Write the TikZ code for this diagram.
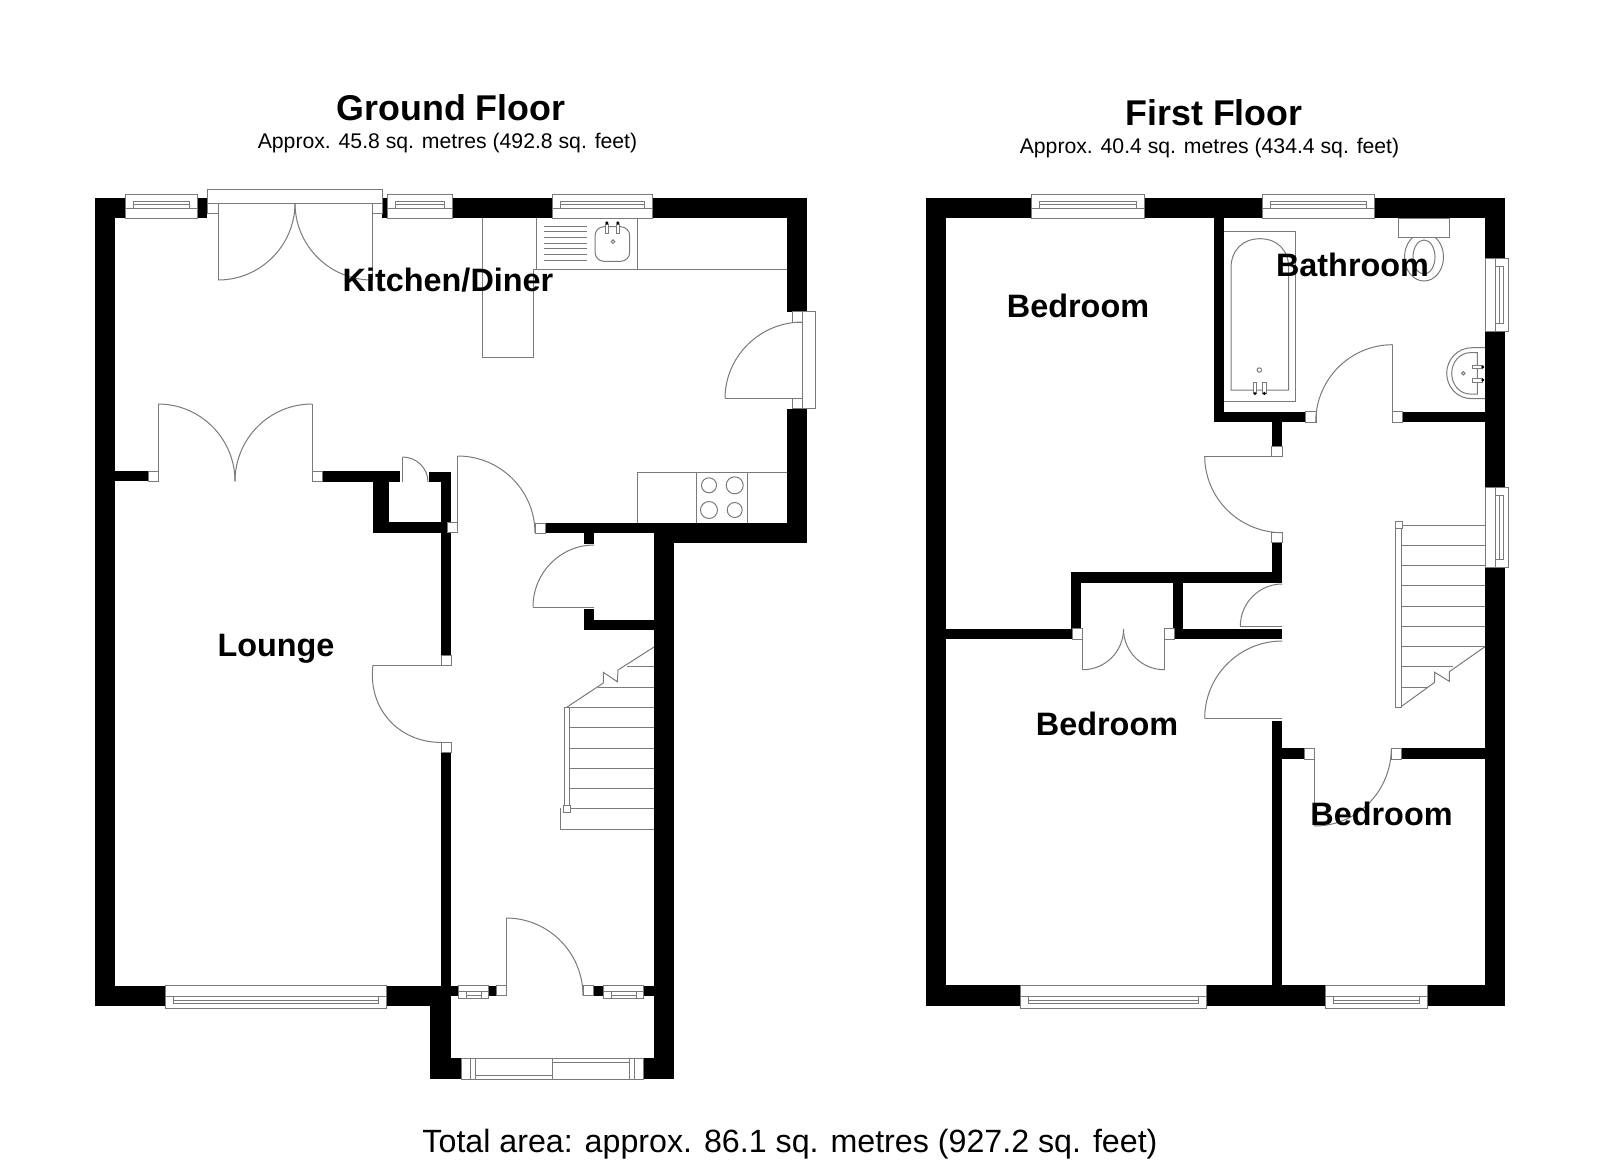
\documentclass[tikz,border=0pt]{standalone}
\usepackage{fontspec}
\setmainfont{Liberation Sans}
\definecolor{ln}{HTML}{7A7A7A}
\tikzset{
  thin line/.style={draw=ln,line width=0.5pt},
  fixture/.style={thin line,fill=white},
  titletext/.style={inner sep=0pt,font=\fontsize{17.9}{20}\selectfont\bfseries},
  roomtext/.style={inner sep=0pt,font=\fontsize{16.2}{18}\selectfont\bfseries},
  subtext/.style={inner sep=0pt,font=\fontsize{10.6}{12}\selectfont},
  totaltext/.style={inner sep=0pt,font=\fontsize{16.1}{18}\selectfont}
}
\newcommand{\Wall}[4]{\fill[black] (#1,#2) rectangle (#3,#4);}
\newcommand{\Bx}[4]{\draw[fixture] (#1,#2) rectangle (#3,#4);}
\newcommand{\Ln}[4]{\draw[thin line] (#1,#2) -- (#3,#4);}
\newcommand{\Qarc}[6]{\draw[thin line] (#3,#4) .. controls ({#3+0.5523*(#5-#1)},{#4+0.5523*(#6-#2)}) and ({#5+0.5523*(#3-#1)},{#6+0.5523*(#4-#2)}) .. (#5,#6);}
\newcommand{\WinT}[2]{\Bx{#1}{194}{#2}{218}\Ln{#1}{208}{#2}{208}\Bx{#1+8}{201}{#2-8}{208}\Ln{#1+8}{204.5}{#2-8}{204.5}}
\newcommand{\WinB}[2]{\Bx{#1}{985.5}{#2}{1008.7}\Ln{#1}{996}{#2}{996}\Bx{#1+8}{996}{#2-8}{1003.7}\Ln{#1+8}{1000}{#2-8}{1000}}
\newcommand{\WinR}[2]{\Bx{1485}{#1}{1508.7}{#2}\Ln{1495.5}{#1}{1495.5}{#2}\Bx{1495.5}{#1+8}{1503.3}{#2-8}\Ln{1499.4}{#1+8}{1499.4}{#2-8}}
\newcommand{\WinH}[4]{\Bx{#1}{985.5}{#2}{998.5}\Ln{#1}{991.7}{#2}{991.7}\Bx{#3}{991.7}{#4}{998.5}\Ln{#3}{995}{#4}{995}}
\newcommand{\Dt}[3]{\fill[black] (#1,#2) circle[radius=#3*0.5pt];}
\begin{document}
\begin{tikzpicture}[x=0.5pt,y=-0.5pt]
\useasboundingbox (0,0) rectangle (1600,1163);
\fill[white] (0,0) rectangle (1600,1163);

%%% GROUND FLOOR walls
\Wall{95}{198}{115}{1006}
\Wall{95}{198}{125}{218}
\Wall{197}{198}{207}{218}
\Wall{382}{198}{387}{218}
\Wall{452}{198}{552}{218}
\Wall{652}{198}{807}{218}
\Wall{787}{198}{807}{312}
\Wall{787}{408.7}{807}{543}
\Wall{654}{523}{807}{543}
\Wall{545}{523}{654}{533}
\Wall{654}{523}{674}{1079}
\Wall{95}{985.5}{165}{1006}
\Wall{386}{985.5}{451}{1006}
\Wall{430}{1006}{451}{1079}
\Wall{430}{1058}{461.4}{1079}
\Wall{643}{1058}{674}{1079}
% lounge/kitchen partition and cupboard
\Wall{115}{471}{148.3}{481.3}
\Wall{322}{471}{400}{482}
\Wall{373}{471}{389}{532.7}
\Wall{373}{522.3}{451}{532.7}
\Wall{429}{472}{451}{482}
\Wall{441}{472}{451}{522.3}
\Wall{441}{522}{451}{655}
\Wall{441}{752}{451}{1006}
% hall understairs cupboard
\Wall{583.5}{533}{594}{544}
\Wall{583.5}{609}{594}{630}
\Wall{583.5}{619.5}{654}{630}
% hall front wall
\Wall{451}{985.5}{496}{995.5}
\Wall{593}{985.5}{654}{995.5}

% patio door
\Bx{207}{189.5}{382}{203}
\Bx{207}{203}{218}{213}
\Bx{372}{203}{382}{213}
\Ln{218}{203}{218}{280}
\Ln{372}{203}{372}{280}
\Qarc{218}{203}{218}{280}{295}{203}
\Qarc{372}{203}{372}{280}{295}{203}
% windows
\WinT{125}{197}
\WinT{387}{452}
\WinT{552}{652}
\WinB{165}{386}
\WinH{458.6}{488.3}{466}{481}
\WinH{603.7}{643}{611}{636}
% porch window
\Bx{461.4}{1058}{643}{1079}
\Ln{470}{1058}{470}{1079}
\Ln{475}{1058}{475}{1079}
\Ln{629.4}{1058}{629.4}{1079}
\Ln{634.5}{1058}{634.5}{1079}
\Ln{552.3}{1058}{552.3}{1079}
\Ln{475}{1075.7}{552.3}{1075.7}
\Ln{552.3}{1062}{629.4}{1062}
% lounge double door
\Bx{148.3}{471}{158}{481.3}
\Bx{312}{471}{322}{481.3}
\Ln{158}{481.3}{158}{404}
\Ln{312}{481.3}{312}{404}
\Qarc{158}{481.3}{158}{404}{235}{481.3}
\Qarc{312}{481.3}{312}{404}{235}{481.3}
% small cupboard door
\Ln{402.5}{482}{402.5}{457}
\Qarc{402.5}{482}{402.5}{457}{428}{482}
% kitchen-hall door
\Bx{447.7}{522}{457.7}{532.7}
\Bx{535}{523}{545}{533}
\Ln{457.7}{532.7}{457.7}{456}
\Qarc{457.7}{533}{457.7}{456}{535}{533}
% hall cupboard door
\Ln{533}{607}{594}{607}
\Qarc{594}{607}{594}{545}{533}{607}
% lounge door
\Bx{441}{655}{451}{665}
\Bx{441}{742}{451}{752}
\Ln{373}{665}{451}{665}
\Qarc{451}{665}{373}{665}{441}{742.4}
% front door
\Bx{496}{985.5}{506}{995.5}
\Bx{583}{985.5}{593}{995.5}
\Ln{506}{995.5}{506}{918}
\Qarc{506}{995.5}{506}{918}{583}{995.5}
% kitchen side door
\Bx{802.7}{311.7}{815.7}{408.7}
\Bx{792}{311.7}{802.7}{322}
\Bx{792}{398.7}{802.7}{408.7}
\Ln{725}{398.7}{802.7}{398.7}
\Qarc{802.7}{398.7}{725}{398.7}{802.7}{322}

% kitchen fittings
\draw[thin line] (482.7,218) -- (482.7,357.3) -- (533.3,357.3) -- (533.3,269) -- (787,269);
\draw[thin line] (536.7,218) -- (536.7,269) (637.3,218) -- (637.3,269);
\foreach \yy in {226,231.7,237.3,243,248.7,254.3,260}{\Ln{544}{\yy}{587}{\yy}}
\draw[thin line,rounded corners=4.5pt] (595,226.7) rectangle (629.7,261.3);
\draw[thin line] (613,241.7) circle[radius=0.9pt];
\Bx{605.3}{224.3}{608.3}{233.7}
\Bx{616.3}{224.3}{619.3}{233.7}
\Dt{606.8}{223}{1.8}
\Dt{617.8}{223}{1.8}
\draw[thin line] (637.3,523) -- (637.3,472.3) -- (787,472.3);
\Ln{696.3}{472.3}{696.3}{523}
\Ln{747.3}{472.3}{747.3}{523}
\draw[thin line] (709,485.3) circle[radius=3.75pt];
\draw[thin line] (734.7,485.3) circle[radius=4.25pt];
\draw[thin line] (709,510) circle[radius=4.25pt];
\draw[thin line] (734.7,510) circle[radius=3.75pt];

% ground stairs
\Ln{626.7}{666.7}{654}{666.7}
\Ln{598}{687}{654}{687}
\foreach \yy in {707,727,748,768,788,808}{\Ln{569}{\yy}{654}{\yy}}
\draw[thin line] (560,808) -- (560,829) -- (654,829);
\Bx{564.3}{707}{569.3}{808}
\Bx{563.5}{805}{570.5}{812}
\draw[thin line] (654,647) -- (618,670) -- (617.3,681.7) -- (603.3,672.3) -- (603.3,683) -- (566.7,707.3);

%%% FIRST FLOOR walls
\Wall{926}{198}{946}{1006}
\Wall{926}{198}{1032}{218}
\Wall{1144}{198}{1263}{218}
\Wall{1374}{198}{1505}{218}
\Wall{1485}{198}{1505}{258.3}
\Wall{1485}{331.7}{1505}{487.7}
\Wall{1485}{567.3}{1505}{1006}
\Wall{926}{985}{1021}{1006}
\Wall{1206}{985}{1325}{1006}
\Wall{1427}{985}{1505}{1006}
\Wall{1214}{218}{1224.3}{422}
\Wall{1214}{411.7}{1305.7}{422}
\Wall{1403}{411.7}{1485}{422}
\Wall{1271.7}{422}{1282.3}{446}
\Wall{1271.7}{542.7}{1282.3}{582.7}
\Wall{1071}{572}{1282.3}{582.7}
\Wall{1071}{572}{1081.3}{639.3}
\Wall{946}{628.7}{1073}{639.3}
\Wall{1173}{572}{1183.3}{639.3}
\Wall{1174}{628.7}{1282.3}{639.3}
\Wall{1271.7}{721}{1282.3}{990}
\Wall{1282}{748.3}{1304.3}{759}
\Wall{1401.7}{748.3}{1485}{759}

% windows
\WinT{1031.5}{1144}
\WinT{1262.7}{1374}
\WinR{258.3}{331.7}
\WinR{487.7}{567.3}
\WinB{1020.4}{1206.6}
\WinB{1325}{1427}
% doors
\Bx{1305.7}{411.7}{1316}{422}
\Bx{1392.7}{411.7}{1402.9}{422}
\Ln{1392.7}{422}{1392.7}{344.7}
\Qarc{1392.7}{422}{1392.7}{344.7}{1315.7}{422}
\Bx{1271.7}{446}{1282.3}{456}
\Bx{1271.7}{532.7}{1282.3}{542.7}
\Ln{1204.7}{456}{1282.3}{456}
\Qarc{1282.3}{456}{1204.7}{456}{1282.3}{532.7}
\Bx{1072.3}{628.7}{1082.7}{639.3}
\Bx{1164.3}{628.7}{1174}{639.3}
\Ln{1082.7}{639.3}{1082.7}{669.7}
\Ln{1164.3}{639.3}{1164.3}{669.7}
\Qarc{1082.7}{629}{1082.7}{669.7}{1123.5}{629}
\Qarc{1164.3}{629}{1164.3}{669.7}{1123.5}{629}
\Ln{1240.3}{626.3}{1282.3}{626.3}
\Qarc{1282.3}{626.3}{1240.3}{626.3}{1282.3}{584}
\Ln{1204.7}{718.3}{1282.3}{718.3}
\Qarc{1282.3}{718.3}{1204.7}{718.3}{1282.3}{641}
\Bx{1304.3}{748.3}{1314.7}{759}
\Bx{1391.3}{748.3}{1401.7}{759}
\Ln{1314.7}{759}{1314.7}{826}
\Qarc{1314.7}{748.3}{1314.7}{826}{1391.3}{748.3}

% first floor stairs
\foreach \yy in {525,545.3,565.7,585.7,606,626.3,646.7}{\Ln{1401}{\yy}{1485}{\yy}}
\Ln{1401}{666.7}{1453}{666.7}
\Ln{1401}{687}{1426.7}{687}
\Bx{1395.7}{525}{1401}{707.3}
\Bx{1395}{521.7}{1402}{528.7}
\draw[thin line] (1485,646.7) -- (1449.3,671.7) -- (1449.3,681.3) -- (1434.7,672.3) -- (1434.7,682.3) -- (1401,706.7);

% bath
\draw[thin line] (1224.3,231.3) -- (1295.3,231.3) -- (1295.3,401.7) -- (1224.3,401.7);
\draw[thin line] (1231,390) -- (1231,268) .. controls (1231,250) and (1243,238.7) .. (1260,238.7) .. controls (1277,238.7) and (1288.7,250) .. (1288.7,268) -- (1288.7,390) -- cycle;
\draw[thin line] (1259.3,370) circle[radius=1.1pt];
\Bx{1253}{382.3}{1256.7}{393}
\Bx{1262.3}{382.3}{1266}{393}
\Dt{1255}{393.5}{1.7}
\Dt{1264.3}{393.5}{1.7}
% toilet
\draw[thin line] (1424,257) circle[x radius=19.5,y radius=24];
\draw[thin line] (1424,257) circle[x radius=11,y radius=17];
\Bx{1398.7}{218}{1449.3}{237.3}
% basin
\draw[thin line] (1485,347.7) -- (1472,347.7) .. controls (1457,347.7) and (1446.7,360) .. (1446.7,373.2) .. controls (1446.7,387) and (1457,398.7) .. (1472,398.7) -- (1485,398.7);
\draw[thin line] (1477.3,352.7) -- (1477.3,394) -- (1470,394) .. controls (1460,394) and (1451.7,385) .. (1451.7,373.3) .. controls (1451.7,362) and (1460,352.7) .. (1470,352.7) -- cycle;
\draw[thin line] (1463.3,373.3) circle[radius=0.85pt];
\Bx{1472}{365}{1482}{368.7}
\Bx{1472}{378}{1482}{382}
\Dt{1482.7}{367}{1.7}
\Dt{1482.7}{380}{1.7}

%%% TEXT
\node[titletext] (gftitle) at (451,107.5) {Ground Floor};
\node[subtext] (gfsub) at (447.5,143) {Approx. 45.8 sq. metres (492.8 sq. feet)};
\node[titletext] (fftitle) at (1214,112.5) {First Floor};
\node[subtext] (ffsub) at (1209.5,148) {Approx. 40.4 sq. metres (434.4 sq. feet)};
\node[roomtext] (kitchen) at (448,280) {Kitchen/Diner};
\node[roomtext] (lounge) at (276,649) {Lounge};
\node[roomtext] (bed1) at (1078,305.5) {Bedroom};
\node[roomtext] (bed2) at (1107,723.5) {Bedroom};
\node[roomtext] (bed3) at (1381.5,814) {Bedroom};
\node[roomtext] (bath) at (1352.5,265) {Bathroom};
\node[totaltext] (total) at (790,1144) {Total area: approx. 86.1 sq. metres (927.2 sq. feet)};
\end{tikzpicture}
\end{document}
